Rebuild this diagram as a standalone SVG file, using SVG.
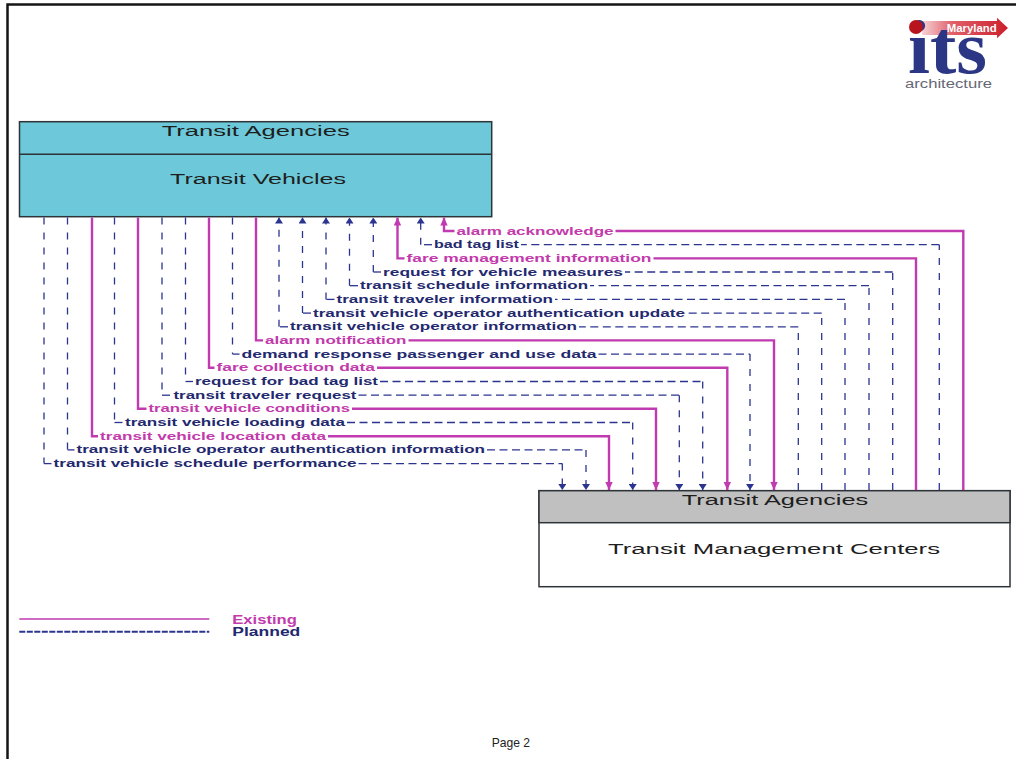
<svg xmlns="http://www.w3.org/2000/svg" width="1016" height="759" viewBox="0 0 1016 759">
<style>
.bg{fill:#ffffff}
.frame{fill:none;stroke:#151515;stroke-width:2.5}
.box{stroke:#2e3338;stroke-width:1.5}
.bt{font-family:"Liberation Sans",Arial,sans-serif;font-size:15.5px;fill:#1e1e1e}
.lbl{font-family:"Liberation Sans",Arial,sans-serif;font-size:10.5px;font-weight:bold}
.lm{fill:#C23AAB}
.lb{fill:#23296E}
.m{fill:none;stroke:#C03AB0;stroke-width:2.4}
.bh{fill:none;stroke:#2B3590;stroke-width:1.3;stroke-dasharray:8 4.5}
.bv{fill:none;stroke:#2B3590;stroke-width:1.3;stroke-dasharray:7 8}
.pg{font-family:"Liberation Sans",Arial,sans-serif;font-size:13px;fill:#222}
</style>
<defs>
<marker id="ab" markerUnits="userSpaceOnUse" viewBox="0 0 6 8" markerWidth="6" markerHeight="8" refX="6" refY="4" orient="auto"><path d="M0,0 L6,4 L0,8 Z" fill="#2B3590"/></marker>
<marker id="am" markerUnits="userSpaceOnUse" viewBox="0 0 8 8" markerWidth="8" markerHeight="8" refX="8" refY="4" orient="auto"><path d="M0,0.3 L8,4 L0,7.7 Z" fill="#C03AB0"/></marker>
<linearGradient id="ban" x1="0" y1="0" x2="1" y2="0"><stop offset="0" stop-color="#f6d3d6"/><stop offset="0.35" stop-color="#e0606a"/><stop offset="1" stop-color="#cc1f2c"/></linearGradient>
</defs>
<rect class="bg" x="0" y="0" width="1016" height="759"/>
<path class="frame" d="M7.5,759 V4.5 H1016"/>

<g id="logo">
<path d="M922,21 H997 V17.7 L1008,28 L997,38.3 V35 H922 Z" fill="url(#ban)"/>
<text x="946.7" y="31.8" textLength="50" lengthAdjust="spacingAndGlyphs" style="font-family:'Liberation Sans',Arial,sans-serif;font-size:11px;font-weight:bold;fill:#ffffff">Maryland</text>
<text x="908" y="73.3" textLength="79" lengthAdjust="spacingAndGlyphs" style="font-family:'Liberation Serif','Times New Roman',serif;font-size:76px;font-weight:bold;fill:#2B3784">its</text>
<circle cx="916" cy="27" r="7" fill="#B8141E"/>
<text x="905" y="88.3" textLength="87" lengthAdjust="spacingAndGlyphs" style="font-family:'Liberation Sans',Arial,sans-serif;font-size:12.5px;fill:#676775">architecture</text>
</g>

<g id="node-transit-vehicles">
<rect class="box" x="19.5" y="121.7" width="472.2" height="95" fill="#6DC9D9"/>
<line class="box" x1="19.5" y1="154.3" x2="491.7" y2="154.3"/>
<text class="bt" x="161.7" y="135.5" textLength="188" lengthAdjust="spacingAndGlyphs">Transit Agencies</text>
<text class="bt" x="170" y="183.5" textLength="176" lengthAdjust="spacingAndGlyphs">Transit Vehicles</text>
</g>

<g id="node-transit-management-centers">
<rect class="box" x="539" y="490.7" width="471" height="96" fill="#ffffff"/>
<rect class="box" x="539" y="490.7" width="471" height="32" fill="#C0C0C0"/>
<text class="bt" x="681.7" y="504.5" textLength="186.6" lengthAdjust="spacingAndGlyphs">Transit Agencies</text>
<text class="bt" x="608" y="553.5" textLength="332" lengthAdjust="spacingAndGlyphs">Transit Management Centers</text>
</g>

<g id="connectors">
<!-- TMC to Transit Vehicles -->
<g id="f-alarm-acknowledge">
<path class="m" d="M963.3,490 V231 H615.5"/><path class="m" d="M454.5,231 H444 V217.5" marker-end="url(#am)"/>
<text class="lbl lm" x="456.5" y="234.5" textLength="157" lengthAdjust="spacingAndGlyphs">alarm acknowledge</text>
</g>
<g id="f-bad-tag-list">
<path class="bv" d="M939.3,490 V244.7"/><path class="bh" d="M939.3,244.7 H521"/><path class="bh" d="M432,244.7 H420.7"/><path class="bv" d="M420.7,244.7 V217.5" marker-end="url(#ab)"/>
<text class="lbl lb" x="434" y="248.2" textLength="85" lengthAdjust="spacingAndGlyphs">bad tag list</text>
</g>
<g id="f-fare-management-information">
<path class="m" d="M916,490 V258.4 H653.5"/><path class="m" d="M404.5,258.4 H397.5 V217.5" marker-end="url(#am)"/>
<text class="lbl lm" x="406.5" y="261.9" textLength="245" lengthAdjust="spacingAndGlyphs">fare management information</text>
</g>
<g id="f-request-for-vehicle-measures">
<path class="bv" d="M892.7,490 V272"/><path class="bh" d="M892.7,272 H625"/><path class="bh" d="M381,272 H373.3"/><path class="bv" d="M373.3,272 V217.5" marker-end="url(#ab)"/>
<text class="lbl lb" x="383" y="275.5" textLength="240" lengthAdjust="spacingAndGlyphs">request for vehicle measures</text>
</g>
<g id="f-transit-schedule-information">
<path class="bv" d="M869,490 V285.7"/><path class="bh" d="M869,285.7 H590"/><path class="bh" d="M358,285.7 H349.5"/><path class="bv" d="M349.5,285.7 V217.5" marker-end="url(#ab)"/>
<text class="lbl lb" x="360" y="289.2" textLength="228" lengthAdjust="spacingAndGlyphs">transit schedule information</text>
</g>
<g id="f-transit-traveler-information">
<path class="bv" d="M845,490 V299.4"/><path class="bh" d="M845,299.4 H555"/><path class="bh" d="M334.5,299.4 H326"/><path class="bv" d="M326,299.4 V217.5" marker-end="url(#ab)"/>
<text class="lbl lb" x="336.5" y="302.9" textLength="216.5" lengthAdjust="spacingAndGlyphs">transit traveler information</text>
</g>
<g id="f-operator-authentication-update">
<path class="bv" d="M821.7,490 V313.1"/><path class="bh" d="M821.7,313.1 H687"/><path class="bh" d="M311,313.1 H302.5"/><path class="bv" d="M302.5,313.1 V217.5" marker-end="url(#ab)"/>
<text class="lbl lb" x="313" y="316.6" textLength="372" lengthAdjust="spacingAndGlyphs">transit vehicle operator authentication update</text>
</g>
<g id="f-operator-information">
<path class="bv" d="M798.3,490 V326.8"/><path class="bh" d="M798.3,326.8 H579"/><path class="bh" d="M288,326.8 H279"/><path class="bv" d="M279,326.8 V217.5" marker-end="url(#ab)"/>
<text class="lbl lb" x="290" y="330.3" textLength="287" lengthAdjust="spacingAndGlyphs">transit vehicle operator information</text>
</g>
<!-- Transit Vehicles to TMC -->
<g id="f-alarm-notification">
<path class="m" d="M256,217.5 V340.4 H263"/><path class="m" d="M408.5,340.4 H774 V490" marker-end="url(#am)"/>
<text class="lbl lm" x="265" y="343.9" textLength="141.5" lengthAdjust="spacingAndGlyphs">alarm notification</text>
</g>
<g id="f-demand-response">
<path class="bv" d="M232.5,217.5 V354.1"/><path class="bh" d="M232.5,354.1 H239.5"/><path class="bh" d="M598.5,354.1 H750"/><path class="bv" d="M750,354.1 V490" marker-end="url(#ab)"/>
<text class="lbl lb" x="241.5" y="357.6" textLength="355" lengthAdjust="spacingAndGlyphs">demand response passenger and use data</text>
</g>
<g id="f-fare-collection-data">
<path class="m" d="M209,217.5 V367.8 H214.5"/><path class="m" d="M377,367.8 H727.3 V490" marker-end="url(#am)"/>
<text class="lbl lm" x="216.5" y="371.3" textLength="158.5" lengthAdjust="spacingAndGlyphs">fare collection data</text>
</g>
<g id="f-request-for-bad-tag-list">
<path class="bv" d="M185.5,217.5 V381.5"/><path class="bh" d="M185.5,381.5 H193"/><path class="bh" d="M380,381.5 H702.7"/><path class="bv" d="M702.7,381.5 V490" marker-end="url(#ab)"/>
<text class="lbl lb" x="195" y="385" textLength="183" lengthAdjust="spacingAndGlyphs">request for bad tag list</text>
</g>
<g id="f-transit-traveler-request">
<path class="bv" d="M162,217.5 V395.2"/><path class="bh" d="M162,395.2 H171.5"/><path class="bh" d="M358.5,395.2 H679.3"/><path class="bv" d="M679.3,395.2 V490" marker-end="url(#ab)"/>
<text class="lbl lb" x="173.5" y="398.7" textLength="183" lengthAdjust="spacingAndGlyphs">transit traveler request</text>
</g>
<g id="f-transit-vehicle-conditions">
<path class="m" d="M138,217.5 V408.8 H146.5"/><path class="m" d="M352,408.8 H656 V490" marker-end="url(#am)"/>
<text class="lbl lm" x="148.5" y="412.3" textLength="201.5" lengthAdjust="spacingAndGlyphs">transit vehicle conditions</text>
</g>
<g id="f-transit-vehicle-loading-data">
<path class="bv" d="M114.5,217.5 V422.5"/><path class="bh" d="M114.5,422.5 H123"/><path class="bh" d="M347,422.5 H632.7"/><path class="bv" d="M632.7,422.5 V490" marker-end="url(#ab)"/>
<text class="lbl lb" x="125" y="426" textLength="220" lengthAdjust="spacingAndGlyphs">transit vehicle loading data</text>
</g>
<g id="f-transit-vehicle-location-data">
<path class="m" d="M92,217.5 V436.2 H98"/><path class="m" d="M328,436.2 H609 V490" marker-end="url(#am)"/>
<text class="lbl lm" x="100" y="439.7" textLength="226" lengthAdjust="spacingAndGlyphs">transit vehicle location data</text>
</g>
<g id="f-operator-authentication-information">
<path class="bv" d="M67.5,217.5 V449.9"/><path class="bh" d="M67.5,449.9 H74.5"/><path class="bh" d="M487,449.9 H586"/><path class="bv" d="M586,449.9 V490" marker-end="url(#ab)"/>
<text class="lbl lb" x="76.5" y="453.4" textLength="408.5" lengthAdjust="spacingAndGlyphs">transit vehicle operator authentication information</text>
</g>
<g id="f-schedule-performance">
<path class="bv" d="M44,217.5 V463.6"/><path class="bh" d="M44,463.6 H51.5"/><path class="bh" d="M358.5,463.6 H562.3"/><path class="bv" d="M562.3,463.6 V490" marker-end="url(#ab)"/>
<text class="lbl lb" x="53.5" y="467.1" textLength="303" lengthAdjust="spacingAndGlyphs">transit vehicle schedule performance</text>
</g>
</g>

<g id="legend">
<line x1="19.3" y1="619" x2="209.3" y2="619" stroke="#C03AB0" stroke-width="1.5"/>
<line x1="19.3" y1="631.7" x2="209.3" y2="631.7" stroke="#2B3590" stroke-width="2" stroke-dasharray="6 1.5"/>
<text class="lbl lm" x="232.3" y="623.5" textLength="64.5" lengthAdjust="spacingAndGlyphs" style="font-size:12px">Existing</text>
<text class="lbl lb" x="232.3" y="636.3" textLength="68" lengthAdjust="spacingAndGlyphs" style="font-size:12px">Planned</text>
</g>

<text class="pg" x="491.7" y="746.7" textLength="38.3" lengthAdjust="spacingAndGlyphs">Page 2</text>
</svg>
